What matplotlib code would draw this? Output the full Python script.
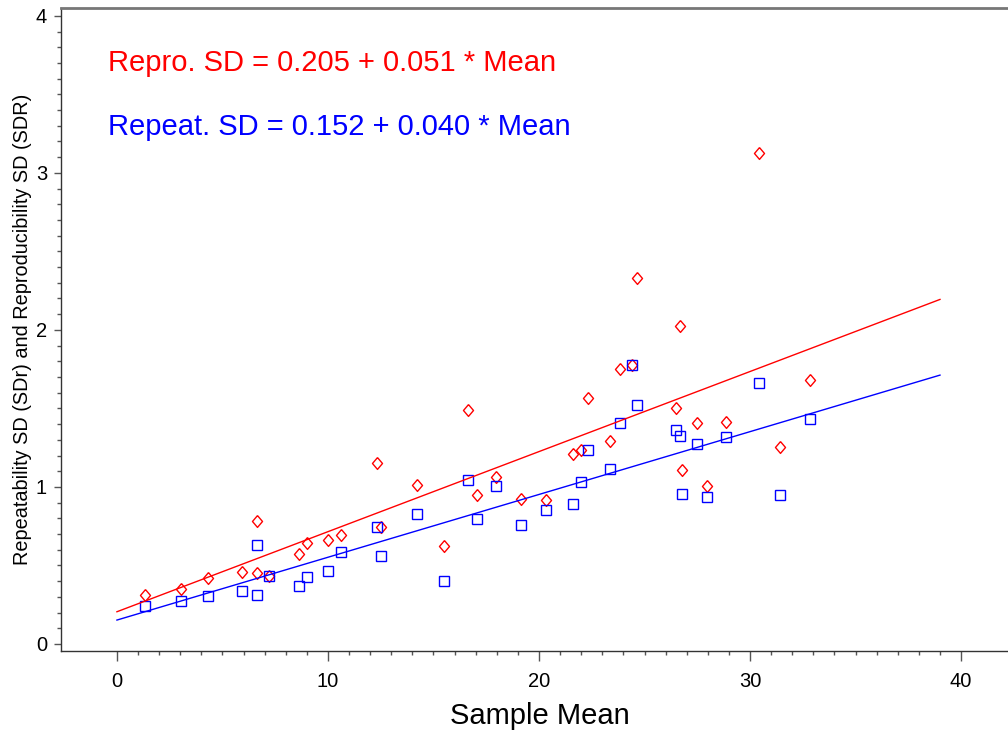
import matplotlib
matplotlib.use("Agg")
import matplotlib.pyplot as plt
from matplotlib.ticker import FixedLocator
import numpy as np

plt.rcParams["font.family"] = ["Liberation Sans", "DejaVu Sans"]

# Sample means (shared by both series)
sample_mean = [1.33, 3.03, 4.33, 5.91, 6.65, 6.65, 7.20, 8.63, 8.99, 9.98,
               10.60, 12.33, 12.52, 14.22, 15.48, 16.64, 17.06, 17.95, 19.13, 20.35,
               21.60, 22.01, 22.32, 23.38, 23.85, 24.39, 24.62, 26.49, 26.66, 26.79,
               27.50, 27.96, 28.86, 30.43, 31.43, 32.83]

# Reproducibility SD (SDR)
repro_sd = [0.312, 0.348, 0.420, 0.459, 0.783, 0.450, 0.435, 0.573, 0.643, 0.660,
            0.694, 1.155, 0.745, 1.010, 0.626, 1.488, 0.949, 1.062, 0.921, 0.915,
            1.209, 1.238, 1.568, 1.295, 1.753, 1.775, 2.333, 1.503, 2.025, 1.106,
            1.408, 1.005, 1.412, 3.127, 1.257, 1.680]

# Repeatability SD (SDr)
repeat_sd = [0.242, 0.276, 0.308, 0.340, 0.631, 0.312, 0.435, 0.371, 0.424, 0.467,
             0.586, 0.747, 0.562, 0.828, 0.403, 1.045, 0.794, 1.006, 0.758, 0.851,
             0.889, 1.034, 1.236, 1.116, 1.409, 1.775, 1.522, 1.365, 1.326, 0.957,
             1.276, 0.936, 1.321, 1.662, 0.947, 1.431]

# Fitted lines: SD = a + b * Mean
repro_fit = (0.205, 0.051)
repeat_fit = (0.152, 0.040)
fit_range = (0, 39)

fig = plt.figure(figsize=(10.08, 7.32), dpi=100)
ax = fig.add_axes([61 / 1008, 1 - 651 / 732, 1 - 61 / 1008 + 0.01, (651 - 8) / 732])

# diamond slightly narrower than tall
diamond = [(0, 1), (0.85, 0), (0, -1), (-0.85, 0), (0, 1)]

ax.plot(sample_mean, repro_sd, linestyle="none", marker=diamond, ms=8.5,
        mfc="none", mec="#ff0000", mew=1.0)
ax.plot(sample_mean, repeat_sd, linestyle="none", marker="s", ms=7,
        mfc="none", mec="#0000ff", mew=1.0)

xs = np.array(fit_range)
ax.plot(xs, repro_fit[0] + repro_fit[1] * xs, color="#ff0000", lw=1.0)
ax.plot(xs, repeat_fit[0] + repeat_fit[1] * xs, color="#0000ff", lw=1.0)

ax.text(-0.43, 3.70, "Repro. SD = %.3f + %.3f * Mean" % repro_fit,
        color="#ff0000", fontsize=21, va="center", ha="left")
ax.text(-0.43, 3.29, "Repeat. SD = %.3f + %.3f * Mean" % repeat_fit,
        color="#0000ff", fontsize=21, va="center", ha="left")

ax.set_xlim(-2.65, 42.7)
ax.set_ylim(-0.045, 4.05)

ax.xaxis.set_major_locator(FixedLocator([0, 10, 20, 30, 40]))
ax.xaxis.set_minor_locator(FixedLocator(np.arange(0, 41, 1)))
ax.yaxis.set_major_locator(FixedLocator([0, 1, 2, 3, 4]))
ax.yaxis.set_minor_locator(FixedLocator(np.arange(0, 4.01, 0.1)))

ax.tick_params(axis="both", which="major", labelsize=14.5, colors="#555555",
               labelcolor="black", width=1)
ax.tick_params(axis="x", which="major", length=7, pad=8)
ax.tick_params(axis="y", which="major", length=5, pad=5)
ax.tick_params(axis="both", which="minor", length=3, width=1, colors="#555555")

for side in ["left", "bottom"]:
    ax.spines[side].set_color("#333333")
    ax.spines[side].set_linewidth(1.0)
ax.spines["top"].set_color("#777777")
ax.spines["top"].set_linewidth(2.0)
ax.spines["right"].set_visible(False)

ax.set_xlabel("Sample Mean", fontsize=21, labelpad=8)
ax.set_ylabel("Repeatability SD (SDr) and Reproducibility SD (SDR)", fontsize=14.3,
              labelpad=3)

fig.savefig("out.png", dpi=100)
